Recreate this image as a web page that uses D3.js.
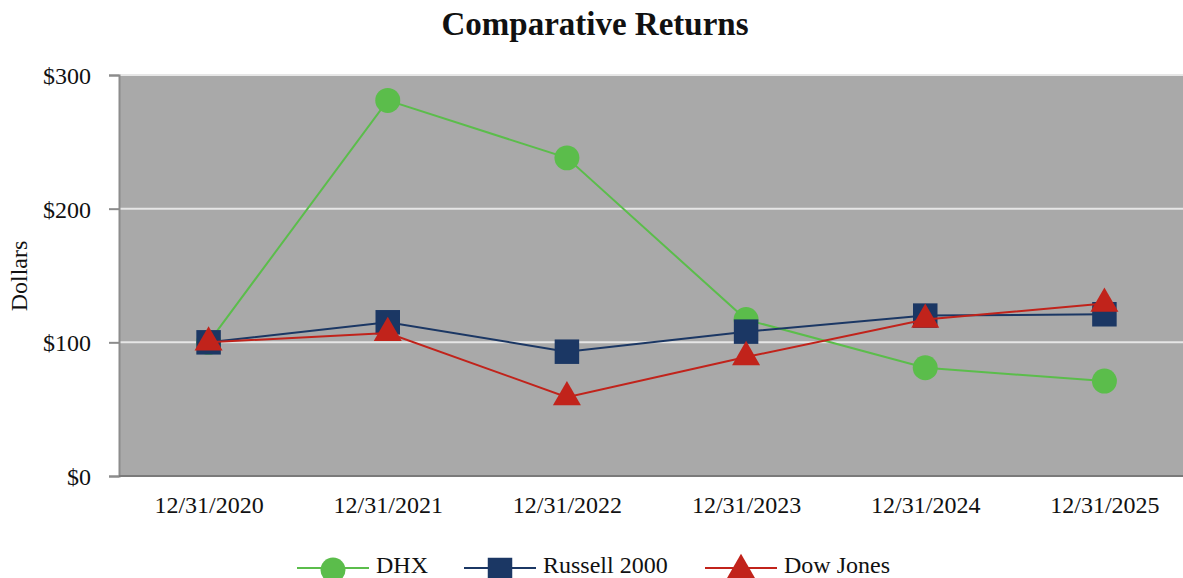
<!DOCTYPE html>
<html lang="en">
	<head>
		<meta charset="utf-8">
		<title>Comparative Returns</title>
		<script type="text/javascript" src="https://cdn.jsdelivr.net/npm/d3@7"></script>
		<style type="text/css">
			body { margin: 0; background: #fff; }
			text { font-family: "Liberation Serif", "Times New Roman", serif; fill: #111; }
		</style>
	</head>
	<body>
		<script type="text/javascript">

			//Data
			var years = ["12/31/2020", "12/31/2021", "12/31/2022", "12/31/2023", "12/31/2024", "12/31/2025"];
			var dhx = [100, 281, 238, 117, 81, 71];
			var russell = [100, 115, 93, 108, 120, 121];
			var dow = [100, 107, 59, 89, 117, 129];
			var yTicks = [0, 100, 200, 300];

			var series = [
				{name: "DHX", values: dhx, color: "#5bbd4b", symbol: d3.symbolCircle, size: 490},
				{name: "Russell 2000", values: russell, color: "#1b3764", symbol: d3.symbolSquare, size: 600},
				{name: "Dow Jones", values: dow, color: "#c1231b", symbol: d3.symbolTriangle, size: 340}
			];

			//Width and height
			var w = 1183;
			var h = 578;
			var plotLeft = 119, plotTop = 75, plotBottom = 476, plotRight = 1194;

			var svg = d3.select("body")
						.append("svg")
						.attr("width", w)
						.attr("height", h);

			var x = d3.scalePoint()
				.domain(years)
				.range([plotLeft, plotRight])
				.padding(0.5);

			var y = d3.scaleLinear()
				.domain([0, 300])
				.range([plotBottom, plotTop]);

			//Plot background
			svg.append("rect")
				.attr("x", plotLeft)
				.attr("y", plotTop)
				.attr("width", plotRight - plotLeft)
				.attr("height", plotBottom - plotTop)
				.style("fill", "#a9a9a9");

			//Gridlines
			svg.selectAll("line.grid")
				.data(yTicks.filter(function(d) { return d > 0; }))
				.enter()
				.append("line")
				.attr("class", "grid")
				.attr("x1", plotLeft)
				.attr("x2", plotRight)
				.attr("y1", function(d) { return y(d); })
				.attr("y2", function(d) { return y(d); })
				.style("stroke", "#e6e6e6")
				.style("stroke-width", 2);

			//Y axis
			var yAxis = svg.append("g")
				.attr("transform", "translate(" + plotLeft + ",0)")
				.call(d3.axisLeft(y).tickValues(yTicks).tickSize(10).tickPadding(18)
					.tickFormat(function(d) { return "$" + d; }));
			yAxis.select(".domain").style("stroke", "#8c8c8c").style("stroke-width", 2);
			yAxis.selectAll(".tick line").style("stroke", "#8c8c8c").style("stroke-width", 2);
			yAxis.selectAll("text").style("font-size", "24px").attr("dy", "0.35em");

			//X axis
			var xAxis = svg.append("g")
				.attr("transform", "translate(0," + plotBottom + ")")
				.call(d3.axisBottom(x).tickSize(0).tickPadding(20));
			xAxis.select(".domain").attr("d", "M" + plotLeft + ",0H" + plotRight).style("stroke", "#7a7a7a").style("stroke-width", 2);
			xAxis.selectAll("text").style("font-size", "24px");

			//Lines and markers
			var line = d3.line()
				.x(function(d, i) { return x(years[i]); })
				.y(function(d) { return y(d); });

			series.forEach(function(s) {
				svg.append("path")
					.datum(s.values)
					.attr("d", line)
					.style("fill", "none")
					.style("stroke", s.color)
					.style("stroke-width", 2);

				svg.selectAll(null)
					.data(s.values)
					.enter()
					.append("path")
					.attr("d", d3.symbol().type(s.symbol).size(s.size))
					.attr("transform", function(d, i) { return "translate(" + x(years[i]) + "," + y(d) + ")"; })
					.style("fill", s.color);
			});

			//Title
			svg.append("text")
				.attr("x", 595)
				.attr("y", 35)
				.attr("text-anchor", "middle")
				.style("font-size", "33px")
				.style("font-weight", "bold")
				.text("Comparative Returns");

			//Y label
			svg.append("text")
				.attr("transform", "translate(27,276) rotate(-90)")
				.attr("text-anchor", "middle")
				.style("font-size", "24px")
				.text("Dollars");

			//Legend
			var legendX = [297, 464, 705];
			var legend = svg.selectAll("g.legend")
				.data(series)
				.enter()
				.append("g")
				.attr("class", "legend")
				.attr("transform", function(d, i) { return "translate(" + legendX[i] + ",568)"; });

			legend.append("line")
				.attr("x1", 0)
				.attr("x2", 72)
				.style("stroke", function(d) { return d.color; })
				.style("stroke-width", 2);

			legend.append("path")
				.attr("d", function(d) { return d3.symbol().type(d.symbol).size(d.size)(); })
				.attr("transform", "translate(36,2)")
				.style("fill", function(d) { return d.color; });

			legend.append("text")
				.attr("x", 79)
				.attr("y", 5)
				.style("font-size", "24px")
				.text(function(d) { return d.name; });

		</script>
	</body>
</html>
